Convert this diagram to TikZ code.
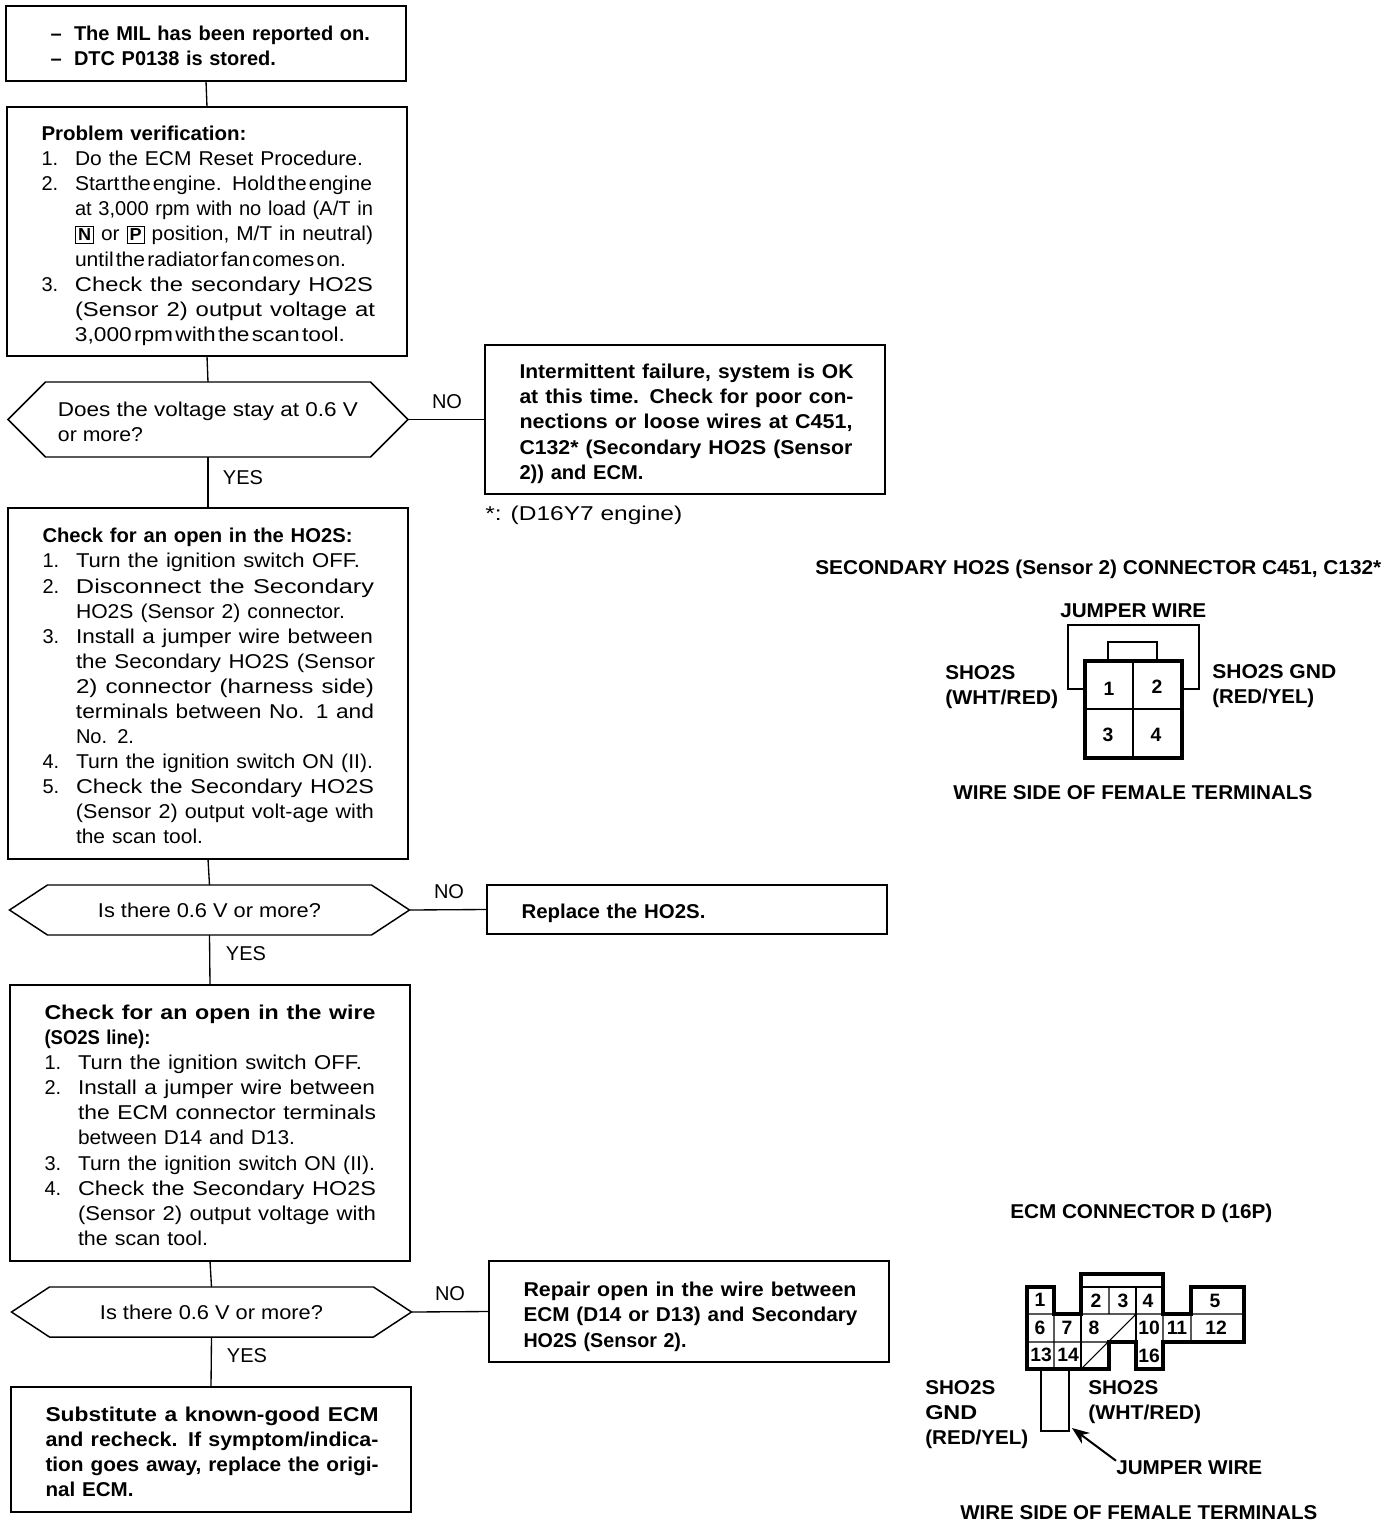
\documentclass[tikz,border=0pt]{standalone}
\usepackage{graphicx}
\usepackage{fontspec}
\setmainfont{Liberation Sans}
\usetikzlibrary{arrows.meta,shapes.symbols}

\newlength{\pxlen}
\setlength{\pxlen}{.75pt}
\newcommand{\flowfont}{\fontsize{15}{18.82}\selectfont}
\newcommand{\fitw}[2]{\resizebox{#1\pxlen}{\height}{#2}}
\newcommand{\tightw}[2]{\resizebox{#1\pxlen}{\height}{\spaceskip=.1em\relax #2}}
\newcommand{\stepno}[1]{\makebox[33.5\pxlen][l]{#1}}
\newcommand{\stepind}{\hspace*{33.5\pxlen}}
\newcommand{\keybox}[1]{{\fboxsep=1.5pt\fboxrule=.7pt\fbox{\fontsize{13}{13}\selectfont\bfseries #1}}}

\tikzset{
        link/.style={line width=1pt},
        stepbox/.style={draw, line width=1.1pt, anchor=north west, outer sep=0pt,
            inner xsep=34.5\pxlen, inner ysep=0pt, text width=331\pxlen, align=left, font=\flowfont},
        boldbox/.style={stepbox, font=\flowfont\bfseries},
        textdrop/.style={execute at begin node={\rule{0pt}{#1\pxlen}}},
        askbox/.style={draw, line width=1.1pt, shape=signal, signal from=nowhere, signal to=west and east,
            outer sep=0pt, inner sep=0pt, minimum width=400\pxlen, align=left, font=\flowfont},
        answer/.style={inner sep=0pt, font=\flowfont},
        caption/.style={inner sep=0pt, anchor=west, align=left, font=\flowfont\bfseries},
        pin/.style={inner sep=0pt, font=\fontsize{14.5}{15}\selectfont\bfseries},
        connwall/.style={line width=2.4pt, line join=miter},
        connrib/.style={line width=.8pt},
        wire/.style={line width=1.5pt}
}

\begin{document}
\begin{tikzpicture}[x=.75pt, y=-.75pt]
        \useasboundingbox (0,0) rectangle (1392,1526);
        \node[boldbox, textdrop=19, minimum height=75\pxlen] (startbox) at (6,6) {
            \stepno{\hspace{10\pxlen}--}\fitw{296}{The MIL has been reported on.}\\
            \stepno{\hspace{10\pxlen}--}\fitw{202}{DTC P0138 is stored.}};
        \node[stepbox, textdrop=23, minimum height=249\pxlen] (verifybox) at (7,107) {
            \textbf{\fitw{205}{Problem verification:}}\\
            \stepno{1.}\fitw{288}{Do the ECM Reset Procedure.}\\
            \stepno{2.}\tightw{297}{Start the engine. Hold the engine}\\
            \stepind\fitw{298}{at 3,000 rpm with no load (A/T in}\\
            \stepind\fitw{298}{\keybox{N} or \keybox{P} position, M/T in neutral)}\\
            \stepind\tightw{271}{until the radiator fan comes on.}\\
            \stepno{3.}\fitw{298}{Check the secondary HO2S}\\
            \stepind\fitw{300}{(Sensor 2) output voltage at}\\
            \stepind\tightw{270}{3,000 rpm with the scan tool.}};
        \node[askbox, signal pointer angle=90, minimum height=75\pxlen] (voltask) at (208,419.5) {
            \rule{0pt}{14pt}\fitw{300}{Does the voltage stay at 0.6 V}\\
            \fitw{85}{or more?}};
        \node[boldbox, textdrop=23, minimum height=149\pxlen] (failbox) at (485,345) {
            \fitw{334}{Intermittent failure, system is OK}\\
            \fitw{334}{at this time. Check for poor con-}\\
            \fitw{333}{nections or loose wires at C451,}\\
            \fitw{333}{C132* (Secondary HO2S (Sensor}\\
            \fitw{124}{2)) and ECM.}};
        \node[answer, anchor=west] (enginenote) at (485,515) {\fitw{197}{*: (D16Y7 engine)}};
        \node[stepbox, textdrop=20, minimum height=351\pxlen] (sensorbox) at (8,508) {
            \textbf{\fitw{310}{Check for an open in the HO2S:}}\\
            \stepno{1.}\fitw{284}{Turn the ignition switch OFF.}\\
            \stepno{2.}\fitw{298}{Disconnect the Secondary}\\
            \stepind\fitw{269}{HO2S (Sensor 2) connector.}\\
            \stepno{3.}\fitw{297}{Install a jumper wire between}\\
            \stepind\fitw{299}{the Secondary HO2S (Sensor}\\
            \stepind\fitw{298}{2) connector (harness side)}\\
            \stepind\fitw{298}{terminals between No. 1 and}\\
            \stepind\fitw{58}{No. 2.}\\
            \stepno{4.}\fitw{297}{Turn the ignition switch ON (II).}\\
            \stepno{5.}\fitw{298}{Check the Secondary HO2S}\\
            \stepind\fitw{298}{(Sensor 2) output volt-age with}\\
            \stepind\fitw{127}{the scan tool.}};
        \node[askbox, signal pointer angle=66.7, minimum height=50\pxlen] (sensorask) at (209.5,910) {
            \fitw{223}{Is there 0.6 V or more?}};
        \node[boldbox, textdrop=23, minimum height=49\pxlen] (replacebox) at (487,885) {\fitw{184}{Replace the HO2S.}};
        \node[stepbox, textdrop=19, minimum height=276\pxlen] (wirebox) at (10,985) {
            \textbf{\fitw{331}{Check for an open in the wire}}\\
            \textbf{\fitw{106}{(SO2S line):}}\\
            \stepno{1.}\fitw{284}{Turn the ignition switch OFF.}\\
            \stepno{2.}\fitw{297}{Install a jumper wire between}\\
            \stepind\fitw{298}{the ECM connector terminals}\\
            \stepind\fitw{217}{between D14 and D13.}\\
            \stepno{3.}\fitw{297}{Turn the ignition switch ON (II).}\\
            \stepno{4.}\fitw{298}{Check the Secondary HO2S}\\
            \stepind\fitw{298}{(Sensor 2) output voltage with}\\
            \stepind\fitw{130}{the scan tool.}};
        \node[askbox, signal pointer angle=66.7, minimum height=50\pxlen] (wireask) at (211.5,1312) {
            \fitw{223}{Is there 0.6 V or more?}};
        \node[boldbox, textdrop=25, minimum height=101\pxlen] (repairbox) at (489,1261) {
            \fitw{333}{Repair open in the wire between}\\
            \fitw{334}{ECM (D14 or D13) and Secondary}\\
            \fitw{163}{HO2S (Sensor 2).}};
        \node[boldbox, textdrop=19, minimum height=125\pxlen] (ecmbox) at (11,1387) {
            \fitw{333}{Substitute a known-good ECM}\\
            \fitw{333}{and recheck. If symptom/indica-}\\
            \fitw{333}{tion goes away, replace the origi-}\\
            \fitw{88}{nal ECM.}};
        \foreach \from/\to in {startbox/verifybox,verifybox/voltask,voltask/sensorbox,sensorbox/sensorask,sensorask/wirebox,wirebox/wireask,wireask/ecmbox} {
            \draw[link] (\from.south) -- (\to.north);
        }
        \foreach \from/\to in {voltask/failbox,sensorask/replacebox,wireask/repairbox} {
            \draw[link] (\from.east) -- (\to.west);
        }
        \foreach \n/\x/\y/\l in {no1/447/402/NO,yes1/243/478/YES,no2/449/892/NO,yes2/246/954/YES,no3/450/1294/NO,yes3/247/1356/YES} {
            \node[answer] (\n) at (\x,\y) {\l};
        }

        \node[caption] (sensortitle) at (815,569) {\fitw{566}{SECONDARY HO2S (Sensor 2) CONNECTOR C451, C132*}};
        \node[caption] (sensorjump) at (1060,611) {\fitw{146}{JUMPER WIRE}};
        \node[caption] (sensorsig) at (945,687.5) {\fitw{70}{SHO2S}\\\fitw{113}{(WHT/RED)}};
        \node[caption] (sensorgnd) at (1212,686) {\fitw{124}{SHO2S GND}\\\fitw{102}{(RED/YEL)}};
        \node[caption] (sensorside) at (953,793) {\fitw{359}{WIRE SIDE OF FEMALE TERMINALS}};
        \draw[connwall] (1085,661) rectangle (1182,758);
        \draw[connrib] (1133,661) -- (1133,758) (1085,709) -- (1182,709);
        \draw[wire] (1108,661) -- (1108,642) -- (1157,642) -- (1157,661);
        \draw[wire] (1085,689) -- (1068,689) -- (1068,625) -- (1199,625) -- (1199,689) -- (1182,689);
        \foreach \x/\y/\l in {1109/689/1,1157/687/2,1108/735/3,1156/735/4} {
            \node[pin] (s\l) at (\x,\y) {\l};
        }

        \node[caption] (ecmtitle) at (1010,1213) {\fitw{262}{ECM CONNECTOR D (16P)}};
        \draw[connwall] (1027,1287) -- (1054,1287) -- (1054,1314) -- (1081,1314) -- (1081,1274) -- (1163,1274)
            -- (1163,1314) -- (1191,1314) -- (1191,1287) -- (1244,1287) -- (1244,1342) -- (1163,1342)
            -- (1163,1369) -- (1136,1369) -- (1136,1342) -- (1109,1342) -- (1109,1369) -- (1027,1369) -- cycle;
        \draw[connrib] (1027,1314) -- (1054,1314) (1081,1314) -- (1244,1314) (1027,1342) -- (1136,1342)
            (1054,1314) -- (1054,1369) (1109,1287) -- (1109,1314) (1163,1314) -- (1163,1342) (1191,1314) -- (1191,1342)
            (1081,1369) -- (1136,1314);
        \draw[wire] (1081,1287) -- (1163,1287) (1081,1287) -- (1081,1369) (1136,1287) -- (1136,1342);
        \foreach \x/\y/\l in {1040/1300/1,1096/1301/2,1123/1301/3,1148/1301/4,1215/1301/5,1040/1328/6,1067/1328/7,1094/1328/8,1149/1328/10,1177/1328/11,1216/1328/12,1041/1355/13,1068/1355/14,1149/1356/16} {
            \node[pin] (e\l) at (\x,\y) {\l};
        }
        \draw[wire] (1041,1369) -- (1041,1431) -- (1069,1431) -- (1069,1369);
        \coordinate (ecmjumpend) at (1072,1428);
        \node[caption] (ecmgnd) at (925,1414.5) {\fitw{70}{SHO2S}\\\fitw{52}{GND}\\\fitw{103}{(RED/YEL)}};
        \node[caption] (ecmsig) at (1088,1402) {\fitw{70}{SHO2S}\\\fitw{113}{(WHT/RED)}};
        \node[caption] (ecmjump) at (1116,1468) {\fitw{146}{JUMPER WIRE}};
        \node[caption] (ecmside) at (960,1513) {\fitw{357}{WIRE SIDE OF FEMALE TERMINALS}};
        \draw[wire, -{Stealth[length=13pt, width=10pt]}] (ecmjump.north west) -- (ecmjumpend);
\end{tikzpicture}
\end{document}
